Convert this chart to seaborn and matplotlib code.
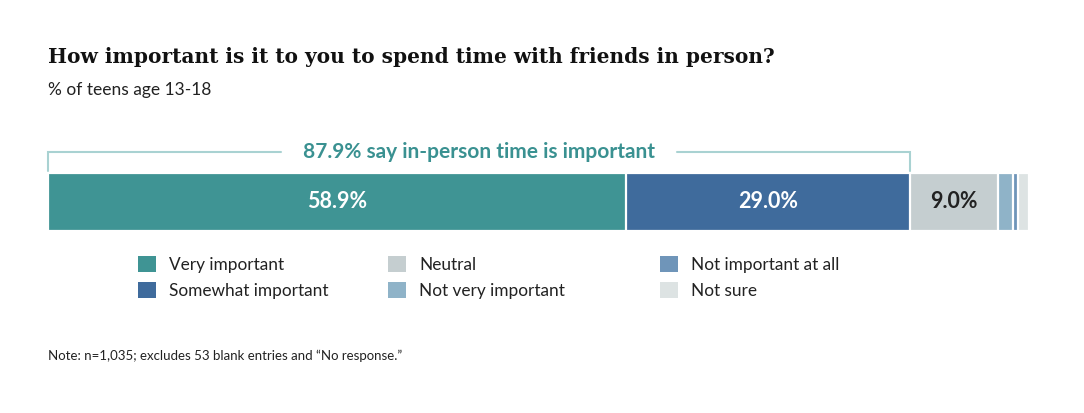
import matplotlib
matplotlib.use("Agg")
import matplotlib.pyplot as plt
import seaborn as sns
import numpy as np
from matplotlib.patches import Patch
from matplotlib.transforms import blended_transform_factory

# Data
categories = ["Very important", "Somewhat important", "Neutral",
              "Not very important", "Not important at all", "Not sure"]
values = [58.9, 29.0, 9.0, 1.5, 0.5, 1.1]
colors = ["#3f9494", "#3f6b9c", "#c5ced0", "#8fb3c8", "#6f95b9", "#dde3e3"]
label_colors = ["white", "white", "#222222"]
important_share = 87.9

sns.set_theme(style="white")
plt.rcParams["font.family"] = ["Lato", "DejaVu Sans"]

fig = plt.figure(figsize=(10.84, 4.13), dpi=100)
ax = fig.add_axes([48 / 1084, (413 - 231) / 413, 980.7 / 1084, 58 / 413])

# stacked bar: draw cumulative totals from the back forward
cum = np.cumsum(values)
for i in reversed(range(len(values))):
    sns.barplot(x=[cum[i]], y=["all"], orient="h", color=colors[i], ax=ax,
                width=1.0, edgecolor="white", linewidth=1.6, saturation=1)

ax.set_xlim(0, cum[-1])
ax.set_ylim(0.5, -0.5)
ax.axis("off")

# value labels on the big segments
starts = np.concatenate([[0], cum[:-1]])
for i in range(3):
    ax.text(starts[i] + values[i] / 2, 0, f"{values[i]:.1f}%", ha="center", va="center",
            color=label_colors[i], fontsize=15.5, fontweight="bold")

# bracket over the important share, with a gap for the label
tr = blended_transform_factory(ax.transData, ax.transAxes)
brk_y = 1.37
lbl = ax.text(important_share / 2, brk_y, f"{important_share}% say in-person time is important",
              transform=tr, ha="center", va="center", color="#3a9191", fontsize=15,
              fontweight="bold")
fig.canvas.draw()
ext = lbl.get_window_extent().transformed(ax.transData.inverted())
gap = 2.2
ax.plot([0, 0, ext.x0 - gap], [1.04, brk_y, brk_y], color="#a9d2d2", lw=1.5,
        transform=tr, clip_on=False, solid_joinstyle="miter")
ax.plot([ext.x1 + gap, important_share, important_share], [brk_y, brk_y, 1.04], color="#a9d2d2",
        lw=1.5, transform=tr, clip_on=False, solid_joinstyle="miter")

# titles and note
fig.text(48 / 1084, 1 - 57 / 413, "How important is it to you to spend time with friends in person?",
         family=["DejaVu Serif"], fontweight="bold", fontsize=14.5, va="center", color="#111111")
fig.text(48 / 1084, 1 - 90 / 413, "% of teens age 13-18", fontsize=12.5, va="center", color="#222222")
fig.text(48 / 1084, 1 - 356 / 413, "Note: n=1,035; excludes 53 blank entries and \u201cNo response.\u201d",
         fontsize=9.5, va="center", color="#222222")

# legend in three columns
col_x = [138, 388, 660]
for c in range(3):
    handles = [Patch(facecolor=colors[2 * c + r], edgecolor="none") for r in range(2)]
    leg = fig.legend(handles, categories[2 * c:2 * c + 2], loc="upper left",
                     bbox_to_anchor=(col_x[c] / 1084, 1 - 256 / 413), frameon=False,
                     fontsize=12.4, handlelength=1.05, handleheight=1.05, handletextpad=0.75,
                     labelspacing=0.55, borderpad=0, borderaxespad=0)
    for t in leg.get_texts():
        t.set_color("#222222")

fig.savefig("out.png", dpi=100)
